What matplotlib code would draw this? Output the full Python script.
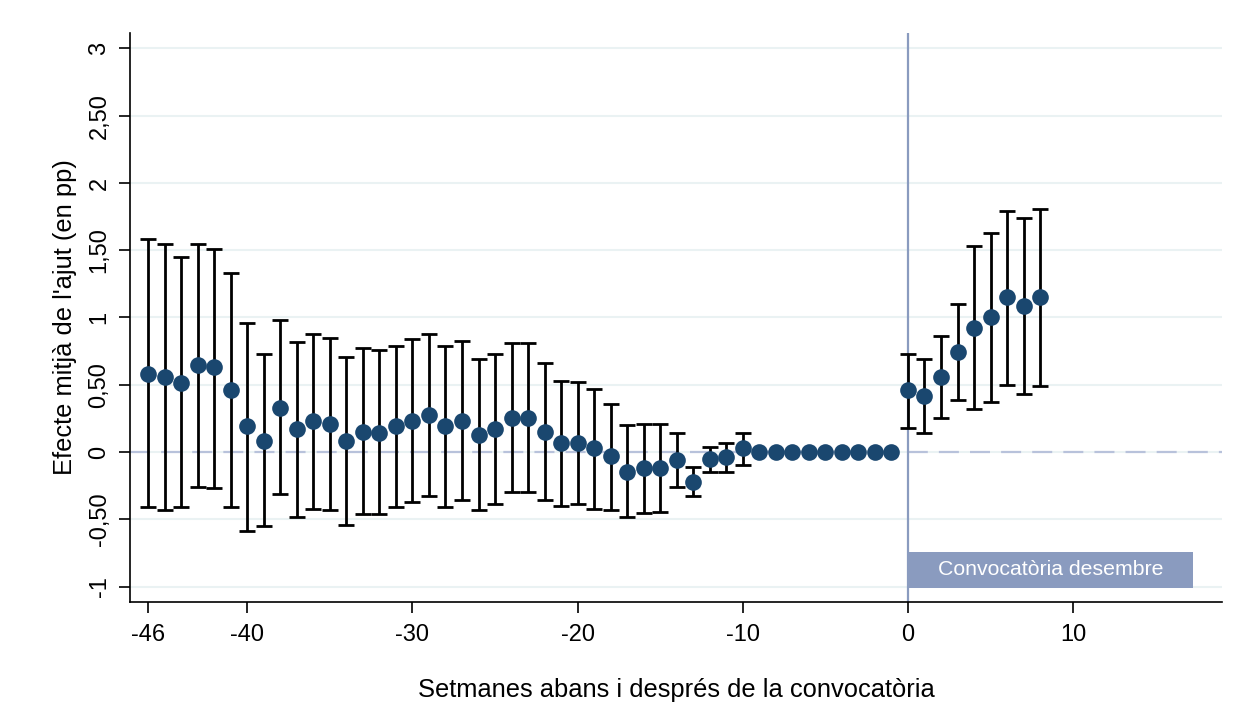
import numpy as np
import matplotlib
matplotlib.use("Agg")
import matplotlib.pyplot as plt

plt.rcParams['font.family'] = ['Liberation Sans', 'DejaVu Sans']
plt.rcParams['axes.unicode_minus'] = False

# weeks relative to the call
weeks = list(range(-46, 9))

# point estimates (pp)
coef = [0.58, 0.56, 0.515, 0.645, 0.63, 0.46, 0.19, 0.085, 0.33, 0.17,
        0.23, 0.21, 0.085, 0.15, 0.145, 0.19, 0.23, 0.275, 0.19, 0.23,
        0.125, 0.17, 0.25, 0.25, 0.15, 0.065, 0.065, 0.027, -0.03, -0.145,
        -0.12, -0.12, -0.06, -0.22, -0.055, -0.035, 0.027,
        0, 0, 0, 0, 0, 0, 0, 0, 0,
        0.46, 0.415, 0.56, 0.745, 0.925, 1.00, 1.15, 1.085, 1.15]

# 95% CI bounds (None where no interval is shown)
ci_hi = [1.58, 1.55, 1.45, 1.55, 1.51, 1.33, 0.96, 0.73, 0.98, 0.82,
         0.88, 0.85, 0.71, 0.77, 0.76, 0.79, 0.84, 0.88, 0.79, 0.825,
         0.69, 0.73, 0.81, 0.81, 0.66, 0.53, 0.52, 0.47, 0.36, 0.20,
         0.21, 0.21, 0.14, -0.11, 0.035, 0.07, 0.145,
         None, None, None, None, None, None, None, None, None,
         0.73, 0.69, 0.865, 1.10, 1.53, 1.63, 1.795, 1.74, 1.81]
ci_lo = [-0.41, -0.43, -0.41, -0.26, -0.27, -0.41, -0.585, -0.55, -0.31, -0.48,
         -0.42, -0.43, -0.54, -0.46, -0.46, -0.41, -0.37, -0.33, -0.41, -0.36,
         -0.43, -0.39, -0.30, -0.30, -0.36, -0.40, -0.39, -0.42, -0.43, -0.485,
         -0.45, -0.445, -0.26, -0.33, -0.15, -0.145, -0.097,
         None, None, None, None, None, None, None, None, None,
         0.18, 0.14, 0.255, 0.39, 0.32, 0.375, 0.50, 0.435, 0.49]

yticks = [3, 2.5, 2, 1.5, 1, 0.5, 0, -0.5, -1]
ytick_labels = ["3", "2,50", "2", "1,50", "1", "0,50", "0", "-0,50", "-1"]
xticks = [-46, -40, -30, -20, -10, 0, 10]

navy = "#1a476f"
ref_col = "#8a9bbf"

fig = plt.figure(figsize=(12.57, 7.11), dpi=100)
ax = fig.add_axes([0.1034, 0.1533, 0.8686, 0.8003])

for y in yticks:
    ax.axhline(y, color="#eaf2f3", lw=1.5, zorder=0)
ax.axhline(0, color="#b8c2db", lw=1.6, ls=(0, (9, 5)), zorder=1)
ax.axvline(0, color=ref_col, lw=1.6, zorder=1)

x = np.array(weeks)
c = np.array(coef)
mask = np.array([h is not None for h in ci_hi])
hi = np.array([h for h in ci_hi if h is not None])
lo = np.array([l for l in ci_lo if l is not None])
ax.errorbar(x[mask], c[mask], yerr=[c[mask] - lo, hi - c[mask]], fmt="none",
            ecolor="black", elinewidth=2.0, capsize=5.5, capthick=2.0, zorder=2)
ax.plot(x, c, "o", color=navy, markersize=12, markeredgewidth=0, zorder=3)

# annotation box
ax.fill_between([0, 17.25], -1.01, -0.745, color=ref_col, lw=0, zorder=2)
ax.text(17.25 / 2, -0.877, "Convocatòria desembre", color="white",
        ha="center", va="center", fontsize=15.3, zorder=4)

ax.set_xlim(-47.1, 19.0)
ax.set_ylim(-1.115, 3.115)
ax.set_xticks(xticks)
ax.set_yticks(yticks)
ax.set_yticklabels(ytick_labels, rotation=90, va="center")
ax.tick_params(axis="both", labelsize=17, length=8, width=1.2, color="black")
ax.tick_params(axis="x", pad=8)
ax.tick_params(axis="y", pad=6)
for s in ["top", "right"]:
    ax.spines[s].set_visible(False)
for s in ["left", "bottom"]:
    ax.spines[s].set_linewidth(1.2)

ax.set_xlabel("Setmanes abans i després de la convocatòria", fontsize=18.4, labelpad=23)
ax.set_ylabel("Efecte mitjà de l'ajut (en pp)", fontsize=18.4, labelpad=8)

fig.savefig("out.png", dpi=100, facecolor="white")
